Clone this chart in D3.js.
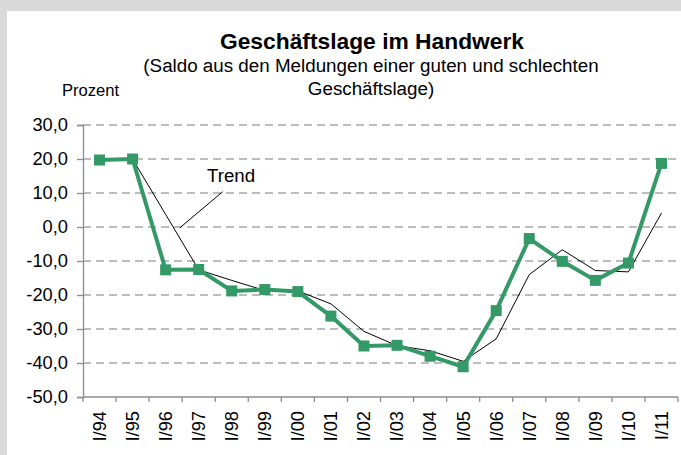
<!DOCTYPE html>
<html>
<head>
<meta charset="utf-8">
<script src="https://cdn.jsdelivr.net/npm/d3@7"></script>
<style>
html,body{margin:0;padding:0;background:#d9d9d9;}
svg{display:block;font-family:"Liberation Sans",Arial,sans-serif;}
</style>
</head>
<body>
<svg id="c" width="681" height="455"></svg>
<script>
const categories = ["I/94","I/95","I/96","I/97","I/98","I/99","I/00","I/01","I/02","I/03","I/04","I/05","I/06","I/07","I/08","I/09","I/10","I/11"];
const saldo = [19.7,20.0,-12.6,-12.5,-18.8,-18.4,-19.0,-26.2,-35.0,-34.8,-38.0,-41.1,-24.6,-3.4,-10.1,-15.7,-10.6,18.7];
const trend = [null,20.0,3.7,-12.6,-15.7,-18.7,-18.8,-22.6,-30.7,-34.9,-36.4,-39.5,-32.9,-14.0,-6.7,-12.8,-13.2,4.1];
const yTicks = [30,20,10,0,-10,-20,-30,-40,-50];
const title = "Geschäftslage im Handwerk";
const subtitle = ["(Saldo aus den Meldungen einer guten und schlechten","Geschäftslage)"];
const yLabel = "Prozent";
const trendLabel = "Trend";

const svg = d3.select("#c");
svg.append("rect").attr("x",7).attr("y",11).attr("width",681).attr("height",455).attr("fill","#fff");

const x = d3.scaleBand().domain(categories).range([83,678]).paddingInner(0).paddingOuter(0);
const y = d3.scaleLinear().domain([-50,30]).range([397,125]);
const cx = d => x(d) + x.bandwidth()/2;
const fmt = v => d3.format(".1f")(v).replace(".",",").replace("−","-");

// gridlines
svg.append("g").selectAll("line").data(yTicks.filter(t=>t>-50)).join("line")
  .attr("x1",83).attr("x2",678).attr("y1",d=>y(d)).attr("y2",d=>y(d))
  .attr("stroke","#a6a6a6").attr("stroke-width",1.3).attr("stroke-dasharray","8,5");

// y axis
const yAxis = svg.append("g").attr("transform","translate(83,0)")
  .call(d3.axisLeft(y).tickValues(yTicks).tickSize(6).tickPadding(9).tickFormat(fmt));
yAxis.select(".domain").attr("stroke","#8c8c8c").attr("stroke-width",1.3);
yAxis.selectAll(".tick line").attr("stroke","#8c8c8c").attr("stroke-width",1.3);
yAxis.selectAll("text").attr("font-size",18.3).attr("fill","#000").attr("font-family","Liberation Sans, Arial, sans-serif");

// x axis
const xg = svg.append("g");
xg.append("line").attr("x1",83).attr("x2",678).attr("y1",y(-50)).attr("y2",y(-50)).attr("stroke","#8c8c8c").attr("stroke-width",1.3);
const bounds = categories.map(c=>x(c)).concat([x(categories[categories.length-1])+x.bandwidth()]);
xg.selectAll("line.t").data(bounds).join("line").attr("class","t")
  .attr("x1",d=>d).attr("x2",d=>d).attr("y1",y(-50)).attr("y2",y(-50)+5)
  .attr("stroke","#8c8c8c").attr("stroke-width",1.3);
xg.selectAll("text").data(categories).join("text")
  .attr("transform",d=>`translate(${cx(d)},${y(-50)+14}) rotate(-90)`)
  .attr("text-anchor","end").attr("dy","0.35em").attr("font-size",18.3).text(d=>d);

// trend line
const trendPts = categories.map((c,i)=>({c,v:trend[i]})).filter(d=>d.v!==null);
svg.append("path").datum(trendPts)
  .attr("d",d3.line().x(d=>cx(d.c)).y(d=>y(d.v)))
  .attr("fill","none").attr("stroke","#000").attr("stroke-width",1);

// main series
const pts = categories.map((c,i)=>({c,v:saldo[i]}));
const green = "#339966";
svg.append("path").datum(pts)
  .attr("d",d3.line().x(d=>cx(d.c)).y(d=>y(d.v)))
  .attr("fill","none").attr("stroke",green).attr("stroke-width",4).attr("stroke-linejoin","round");
svg.append("g").selectAll("rect").data(pts).join("rect")
  .attr("x",d=>cx(d.c)-5.5).attr("y",d=>y(d.v)-5.5).attr("width",11).attr("height",11).attr("fill",green);

// trend annotation
svg.append("line").attr("x1",222.7).attr("y1",191.7).attr("x2",180).attr("y2",227.7).attr("stroke","#000").attr("stroke-width",1);
svg.append("text").attr("x",207).attr("y",182).attr("font-size",18.7).text(trendLabel);

// titles
svg.append("text").attr("x",372).attr("y",49).attr("text-anchor","middle").attr("font-size",22.8).attr("font-weight","bold").text(title);
svg.append("text").attr("x",371).attr("y",72).attr("text-anchor","middle").attr("font-size",18.8).text(subtitle[0]);
svg.append("text").attr("x",371).attr("y",95).attr("text-anchor","middle").attr("font-size",18.8).text(subtitle[1]);
svg.append("text").attr("x",62).attr("y",96).attr("font-size",16.6).text(yLabel);
</script>
</body>
</html>
